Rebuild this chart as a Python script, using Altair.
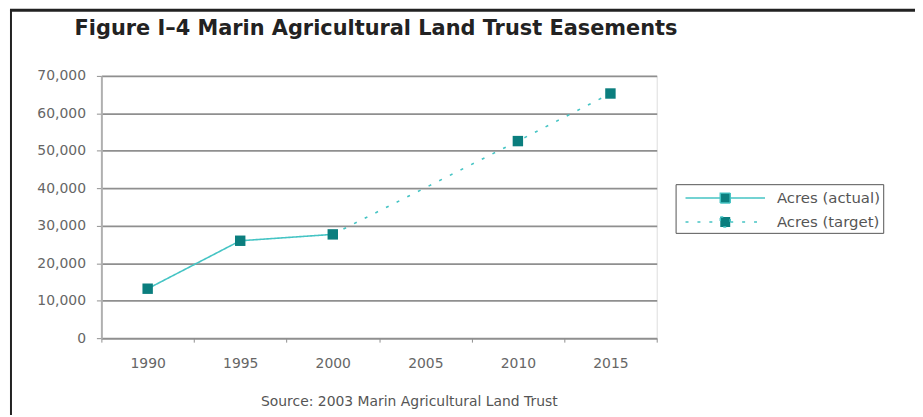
import altair as alt
import pandas as pd

# ---- data ----
years = ["1990", "1995", "2000", "2005", "2010", "2015"]
actual_years = ["1990", "1995", "2000"]
actual_acres = [13200, 26000, 27700]
target_years = ["2000", "2010", "2015"]
target_acres = [27700, 52600, 65300]
target_marker_years = ["2010", "2015"]
series_names = ["Acres (actual)", "Acres (target)"]
y_ticks = [0, 10000, 20000, 30000, 40000, 50000, 60000, 70000]
title_text = "Figure I\u20134  Marin Agricultural Land Trust Easements"
source_text = "Source: 2003 Marin Agricultural Land Trust"

line_df = pd.DataFrame(
    {
        "year": actual_years + target_years,
        "acres": actual_acres + target_acres,
        "series": [series_names[0]] * len(actual_years) + [series_names[1]] * len(target_years),
    }
)
marker_df = line_df[
    (line_df["series"] == series_names[0])
    | (line_df["year"].isin(target_marker_years))
]

LINE_COLOR = "#45c4c4"
MARK_COLOR = "#0b7e7e"
GRID_COLOR = "#8f8f8f"
FONT = "DejaVu Sans"

x_enc = alt.X(
    "year:O",
    scale=alt.Scale(type="band", domain=years, paddingInner=0, paddingOuter=0),
    bandPosition=0.5,
    axis=alt.Axis(
        title=None,
        tickBand="extent",
        grid=False,
        domainColor=GRID_COLOR,
        domainWidth=1.5,
        tickColor=GRID_COLOR,
        tickSize=4,
        labelPadding=15,
        labelAngle=0,
        labelFont=FONT,
        labelFontSize=14,
        labelColor="#666666",
    ),
)
y_enc = alt.Y(
    "acres:Q",
    scale=alt.Scale(domain=[0, 70000], nice=False),
    axis=alt.Axis(
        title=None,
        values=y_ticks,
        format=",.0f",
        grid=True,
        gridColor=GRID_COLOR,
        gridWidth=1.6,
        domainColor="#b0b0b0",
        domainWidth=2,
        tickColor=GRID_COLOR,
        tickSize=5,
        labelPadding=11,
        labelFont=FONT,
        labelFontSize=14,
        labelColor="#666666",
    ),
)

legend = alt.Legend(
    title=None,
    orient="none",
    legendX=578,
    legendY=109,
    strokeColor="#555555",
    padding=3,
    symbolType="M-4,0H-0.5M0.5,0H4M-0.5,-0.5H0.5V0.5H-0.5Z",
    symbolSize=400,
    symbolOffset=36,
    symbolStrokeWidth=1.5,
    symbolFillColor=MARK_COLOR,
    symbolStrokeColor=LINE_COLOR,
    labelFont=FONT,
    labelFontSize=15,
    labelColor="#555555",
    labelOffset=41,
    rowPadding=5,
)

lines = alt.Chart(line_df).mark_line(strokeWidth=1.6).encode(
    x=x_enc,
    y=y_enc,
    color=alt.Color(
        "series:N",
        scale=alt.Scale(domain=series_names, range=[LINE_COLOR, LINE_COLOR]),
        legend=legend,
    ),
    strokeDash=alt.StrokeDash(
        "series:N",
        scale=alt.Scale(domain=series_names, range=[[1, 0], [3, 9]]),
        legend=legend,
    ),
)

markers = alt.Chart(marker_df).mark_point(
    shape="square", filled=True, size=110, opacity=1, color=MARK_COLOR
).encode(x=x_enc, y=y_enc)

title = alt.Chart(pd.DataFrame({"t": [title_text]})).mark_text(
    font=FONT, fontSize=21, fontWeight="bold", color="#222222",
    align="left", baseline="middle",
).encode(text="t:N", x=alt.value(-27), y=alt.value(-47))

source = alt.Chart(pd.DataFrame({"t": [source_text]})).mark_text(
    font=FONT, fontSize=14, color="#555555", align="center", baseline="middle"
).encode(text="t:N", x=alt.value(310), y=alt.value(328))

frame_top = alt.Chart(pd.DataFrame({"t": [0]})).mark_rule(
    color="#222222", strokeWidth=3
).encode(x=alt.value(-92), x2=alt.value(830), y=alt.value(-66))

frame_left = alt.Chart(pd.DataFrame({"t": [0]})).mark_rule(
    color="#222222", strokeWidth=2
).encode(x=alt.value(-91), y=alt.value(-67), y2=alt.value(350))

chart = (
    alt.layer(lines, markers, title, source, frame_top, frame_left)
    .properties(
        width=559,
        height=264,
        padding={"left": 94, "top": 67, "right": 260, "bottom": 76},
        autosize=alt.AutoSizeParams(type="none"),
    )
    .configure_view(stroke=None)
    .configure(background="white")
)

chart.save("out.html", embed_options={"renderer": "svg", "actions": False})
